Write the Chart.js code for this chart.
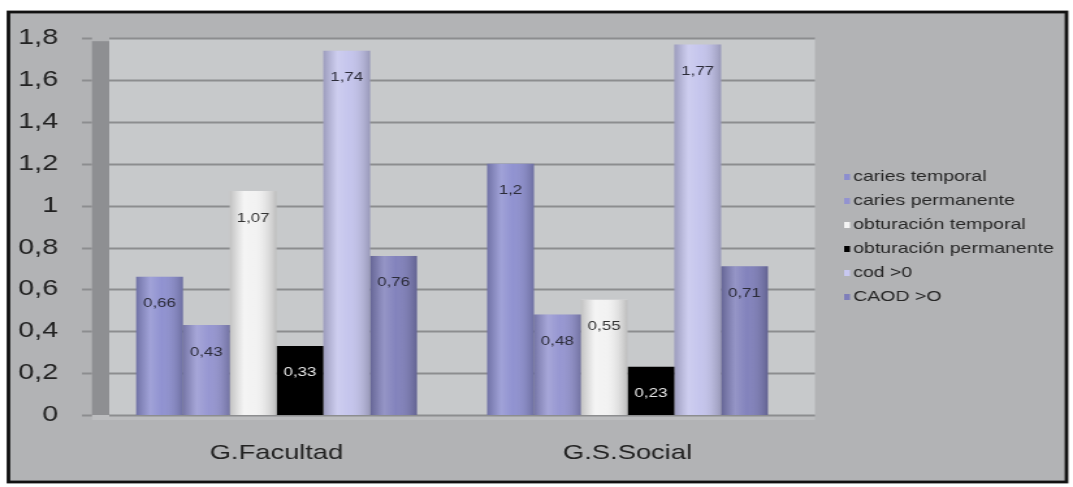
<!DOCTYPE html>
<html>
<head>
<meta charset="utf-8">
<script src="https://cdn.jsdelivr.net/npm/chart.js@4/dist/chart.umd.min.js"></script>
<style>
  html, body { margin: 0; padding: 0; background: #fff; overflow: hidden; }
  #wrap { width: 825px; height: 487px; transform: scaleX(1.30061); transform-origin: 0 0; }
  canvas { display: block; }
</style>
</head>
<body>
<div id="wrap"><canvas id="chart" width="825" height="487" style="width:825px;height:487px"></canvas></div>
<script>
const categories = ['G.Facultad', 'G.S.Social'];
const seriesNames = ['caries temporal', 'caries permanente', 'obturación temporal', 'obturación permanente', 'cod >0', 'CAOD >O'];
const cariesTemporal = [0.66, 1.2];
const cariesPermanente = [0.43, 0.48];
const obturacionTemporal = [1.07, 0.55];
const obturacionPermanente = [0.33, 0.23];
const cod = [1.74, 1.77];
const caod = [0.76, 0.71];
const yTicks = [0, 0.2, 0.4, 0.6, 0.8, 1, 1.2, 1.4, 1.6, 1.8];

const colors = ['#8c8ecf', '#9393d0', '#f2f2f2', '#000000', '#c3c3ec', '#7e7eba'];
const labelColors = ['#2c2c3a', '#2c2c3a', '#333333', '#e6e6e6', '#2c2c3a', '#2c2c3a'];
const values = [cariesTemporal, cariesPermanente, obturacionTemporal, obturacionPermanente, cod, caod];

const fmt = v => String(v).replace('.', ',');

// fondo, marco, pared y rejilla
const backdrop = {
    id: 'backdrop',
    beforeDraw(chart) {
        const { ctx, chartArea: a, scales: { y } } = chart;
        ctx.save();
        ctx.fillStyle = '#ffffff';
        ctx.fillRect(0, 0, chart.width, chart.height);
        ctx.fillStyle = '#b2b3b5';
        ctx.fillRect(6.5, 12, 813.5, 470);
        ctx.strokeStyle = '#111';
        ctx.lineWidth = 2.8;
        ctx.strokeRect(6.5, 12, 813.5, 470);
        // plano del fondo
        ctx.fillStyle = '#c7c9cb';
        ctx.fillRect(84, a.top, 626.6 - 84, a.bottom - a.top);
        // suelo
        ctx.fillStyle = '#bcbdbf';
        ctx.fillRect(70.7, a.bottom, 626.6 - 70.7, 5);
        // rejilla
        ctx.strokeStyle = '#8c8d8f';
        ctx.lineWidth = 1.8;
        yTicks.forEach(t => {
            const py = Math.round(y.getPixelForValue(t)) + 0.5;
            ctx.beginPath();
            ctx.moveTo(84, py);
            ctx.lineTo(626.6, py);
            ctx.moveTo(63, py);
            ctx.lineTo(70.7, py);
            ctx.stroke();
        });
        // pared izquierda
        ctx.fillStyle = '#8e8f92';
        ctx.fillRect(70.7, a.top + 3, 84 - 70.7, a.bottom - a.top - 3);
        ctx.restore();
    }
};

// sombreado cilíndrico y etiquetas de valor
const barDecor = {
    id: 'barDecor',
    afterDatasetsDraw(chart) {
        const { ctx } = chart;
        ctx.save();
        chart.data.datasets.forEach((ds, i) => {
            const meta = chart.getDatasetMeta(i);
            meta.data.forEach((bar, j) => {
                const x0 = bar.x - bar.width / 2;
                const x1 = bar.x + bar.width / 2;
                if (i !== 3) {
                    const g = ctx.createLinearGradient(x0, 0, x1, 0);
                    g.addColorStop(0, 'rgba(0,0,0,0.20)');
                    g.addColorStop(0.3, 'rgba(255,255,255,0.18)');
                    g.addColorStop(0.55, 'rgba(255,255,255,0.04)');
                    g.addColorStop(1, 'rgba(0,0,0,0.22)');
                    ctx.fillStyle = g;
                    ctx.fillRect(x0, bar.y, bar.width, bar.base - bar.y);
                }
                ctx.fillStyle = labelColors[i];
                ctx.font = '13px "Liberation Sans", Arial, sans-serif';
                ctx.textAlign = 'center';
                ctx.textBaseline = 'middle';
                ctx.fillText(fmt(ds.data[j]), bar.x, bar.y + 27);
            });
        });
        ctx.restore();
    }
};

// leyenda a la derecha
const sideLegend = {
    id: 'sideLegend',
    afterDraw(chart) {
        const { ctx } = chart;
        ctx.save();
        ctx.font = '15px "Liberation Sans", Arial, sans-serif';
        ctx.textBaseline = 'middle';
        ctx.textAlign = 'left';
        chart.data.datasets.forEach((ds, i) => {
            const cy = 177 + i * 24;
            ctx.fillStyle = i === 2 ? '#f4f4f4' : (i === 4 ? '#c8c8f0' : ds.backgroundColor);
            ctx.fillRect(649, cy - 3, 4.5, 6);
            ctx.fillStyle = '#262626';
            ctx.fillText(ds.label, 656, cy);
        });
        ctx.restore();
    }
};

new Chart(document.getElementById('chart'), {
    type: 'bar',
    data: {
        labels: categories,
        datasets: seriesNames.map((name, i) => ({
            label: name,
            data: values[i],
            backgroundColor: colors[i],
            borderWidth: 0,
            categoryPercentage: 0.8,
            barPercentage: 1.0
        }))
    },
    options: {
        responsive: false,
        animation: false,
        devicePixelRatio: 1,
        layout: { padding: { left: 0, right: 207.6, top: 38, bottom: 0 } },
        plugins: {
            legend: { display: false },
            tooltip: { enabled: false }
        },
        scales: {
            x: {
                grid: { display: false },
                border: { display: false },
                ticks: {
                    color: '#222222',
                    font: { family: '"Liberation Sans", Arial, sans-serif', size: 21 },
                    padding: 18
                },
                afterFit(s) { s.height = 487 - 38 - 377; }
            },
            y: {
                min: 0,
                max: 1.8,
                grid: { display: false },
                border: { display: false },
                afterBuildTicks(s) { s.ticks = yTicks.map(v => ({ value: v })); },
                ticks: {
                    color: '#222222',
                    font: { family: '"Liberation Sans", Arial, sans-serif', size: 22 },
                    padding: 25,
                    callback: v => fmt(v)
                },
                afterFit(s) { s.width = 77.7; }
            }
        }
    },
    plugins: [backdrop, barDecor, sideLegend]
});
</script>
</body>
</html>
